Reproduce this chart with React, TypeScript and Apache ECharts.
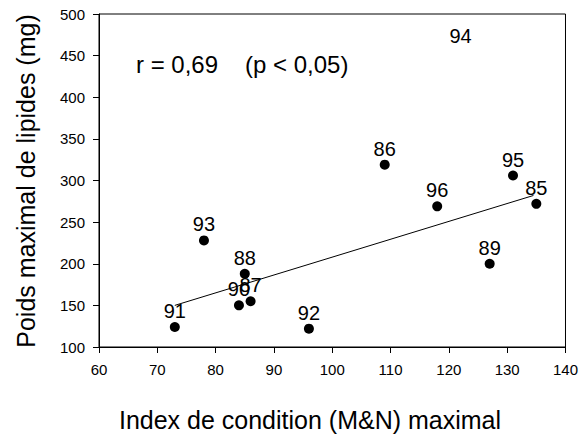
import React, { useEffect, useRef } from "react";
import * as echarts from "echarts";

const pointIds = ["91", "93", "88", "90", "87", "92", "86", "96", "95", "85", "89"];
const conditionIndex = [73, 78, 85, 84, 86, 96, 109, 118, 131, 135, 127];
const lipidWeight = [124, 228, 188, 150, 155, 122, 319, 269, 306, 272, 200];

const unmarkedIds = ["94"];
const unmarkedX = [122];
const unmarkedY = [454];

const fitX = [73, 134.5];
const fitY = [150, 282];

const xTitle = "Index de condition (M&N) maximal";
const yTitle = "Poids maximal de lipides (mg)";
const rText = "r = 0,69";
const pText = "(p < 0,05)";

const FONT = "'Liberation Sans', Arial, sans-serif";

export default function App() {
  const ref = useRef<HTMLDivElement>(null);
  useEffect(() => {
    document.body.style.margin = "0";
    if (!ref.current) return;
    const chart = echarts.init(ref.current, undefined, { renderer: "svg" });
    const pts = conditionIndex.map((x, i) => [x, lipidWeight[i], pointIds[i]]);
    const hidden = unmarkedX.map((x, i) => [x, unmarkedY[i], unmarkedIds[i]]);
    const fit = fitX.map((x, i) => [x, fitY[i]]);
    const labelStyle = {
      show: true,
      position: "top" as const,
      distance: 1,
      formatter: (p: any) => p.value[2],
      fontSize: 20,
      color: "#000",
      opacity: 1,
      fontFamily: FONT,
    };
    chart.setOption({
      animation: false,
      backgroundColor: "#fff",
      textStyle: { fontFamily: FONT },
      grid: {
        left: 99,
        top: 14,
        right: 14,
        bottom: 87,
        show: true,
        borderColor: "#000",
        borderWidth: 1,
        backgroundColor: "transparent",
      },
      xAxis: {
        type: "value",
        min: 60,
        max: 140,
        interval: 10,
        splitLine: { show: false },
        axisLine: { show: true, onZero: false, lineStyle: { color: "#000", width: 1 } },
        axisTick: { show: true, inside: false, length: 6, lineStyle: { color: "#000" } },
        axisLabel: { color: "#000", fontSize: 15, margin: 15, fontFamily: FONT },
      },
      yAxis: {
        type: "value",
        min: 100,
        max: 500,
        interval: 50,
        splitLine: { show: false },
        axisLine: { show: true, onZero: false, lineStyle: { color: "#000", width: 1 } },
        axisTick: { show: true, inside: false, length: 6, lineStyle: { color: "#000" } },
        axisLabel: { color: "#000", fontSize: 15, margin: 14, fontFamily: FONT },
      },
      series: [
        {
          type: "line",
          data: fit,
          symbol: "none",
          lineStyle: { color: "#000", width: 1 },
          z: 1,
        },
        {
          type: "scatter",
          data: pts,
          symbol: "circle",
          symbolSize: 10,
          itemStyle: { color: "#000", opacity: 1 },
          label: labelStyle,
          z: 2,
        },
        {
          type: "scatter",
          data: hidden,
          symbol: "circle",
          symbolSize: 10,
          itemStyle: { color: "rgba(0,0,0,0)", opacity: 1 },
          label: labelStyle,
          z: 2,
        },
      ],
      graphic: [
        {
          type: "text",
          left: 136,
          top: 52,
          style: { text: rText, fontSize: 24, fill: "#000", fontFamily: FONT },
        },
        {
          type: "text",
          left: 245,
          top: 52,
          style: { text: pText, fontSize: 24, fill: "#000", fontFamily: FONT },
        },
        {
          type: "text",
          x: 310,
          y: 420,
          style: {
            text: xTitle,
            fontSize: 25,
            fill: "#000",
            fontFamily: FONT,
            align: "center",
            verticalAlign: "middle",
          },
        },
        {
          type: "text",
          x: 26,
          y: 181,
          rotation: Math.PI / 2,
          style: {
            text: yTitle,
            fontSize: 25,
            fill: "#000",
            fontFamily: FONT,
            align: "center",
            verticalAlign: "middle",
          },
        },
      ],
    });
    return () => chart.dispose();
  }, []);
  return <div ref={ref} style={{ width: 581, height: 434 }} />;
}
